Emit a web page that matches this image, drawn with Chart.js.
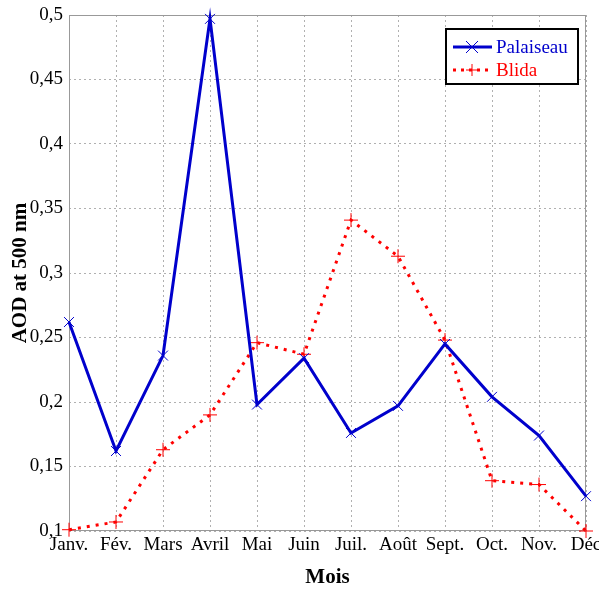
<!DOCTYPE html>
<html>
<head>
<meta charset="utf-8">
<script src="https://cdn.jsdelivr.net/npm/chart.js@4/dist/chart.umd.min.js"></script>
<style>
  html, body { margin: 0; padding: 0; background: #fff; }
  #wrap { width: 599px; height: 590px; position: relative; }
</style>
</head>
<body>
<div id="wrap"><canvas id="aod"></canvas></div>
<script>
// Monthly mean AOD at 500 nm, Palaiseau vs Blida.
const MONTHS = ["Janv.", "Fév.", "Mars", "Avril", "Mai", "Juin", "Juil.", "Août", "Sept.", "Oct.", "Nov.", "Déc"];
const PALAISEAU = [0.262, 0.162, 0.236, 0.497, 0.198, 0.234, 0.176, 0.197, 0.245, 0.204, 0.174, 0.127];
const BLIDA = [0.101, 0.107, 0.163, 0.190, 0.246, 0.237, 0.341, 0.313, 0.248, 0.139, 0.136, 0.100];
const Y_MIN = 0.1, Y_MAX = 0.5, Y_STEP = 0.05;

const FONT = "'Liberation Serif', 'Times New Roman', serif";
const BLUE = "#0000cc", RED = "#ff0000", GRID = "#b0b0b0";

const fmtComma = (v) => String(Math.round(v * 100) / 100).replace(".", ",");

// Legend box in the top-right corner of the plot, like the MATLAB one.
const boxLegend = {
  id: "boxLegend",
  afterDraw(chart) {
    const { ctx, chartArea: a } = chart;
    const x0 = a.right - 140, y0 = a.top + 14, w = 132, h = 55;
    ctx.save();
    ctx.fillStyle = "#fff";
    ctx.fillRect(x0, y0, w, h);
    ctx.strokeStyle = "#000";
    ctx.lineWidth = 2;
    ctx.strokeRect(x0, y0, w, h);
    const rows = [
      { label: "Palaiseau", color: BLUE, dash: [], mark: "x" },
      { label: "Blida", color: RED, dash: [3, 5], mark: "+" },
    ];
    rows.forEach((r, i) => {
      const y = y0 + 18 + i * 23;
      ctx.strokeStyle = r.color;
      ctx.lineWidth = 3;
      ctx.setLineDash(r.dash);
      ctx.beginPath();
      ctx.moveTo(x0 + 7, y);
      ctx.lineTo(x0 + 46, y);
      ctx.stroke();
      ctx.setLineDash([]);
      ctx.lineWidth = 1;
      ctx.beginPath();
      const cx = x0 + 26, s = 6;
      if (r.mark === "x") {
        ctx.moveTo(cx - s, y - s); ctx.lineTo(cx + s, y + s);
        ctx.moveTo(cx + s, y - s); ctx.lineTo(cx - s, y + s);
      } else {
        ctx.moveTo(cx - s, y); ctx.lineTo(cx + s, y);
        ctx.moveTo(cx, y - s); ctx.lineTo(cx, y + s);
      }
      ctx.stroke();
      ctx.fillStyle = r.color;
      ctx.font = `19px ${FONT}`;
      ctx.textBaseline = "middle";
      ctx.fillText(r.label, x0 + 50, y + 1);
    });
    ctx.restore();
  },
};

new Chart(document.getElementById("aod"), {
  type: "line",
  data: {
    labels: MONTHS,
    datasets: [
      {
        label: "Palaiseau", data: PALAISEAU, borderColor: BLUE, backgroundColor: BLUE,
        borderWidth: 3, pointStyle: "crossRot", pointRadius: 7, pointBorderWidth: 1,
        pointBorderColor: BLUE, tension: 0, clip: false,
      },
      {
        label: "Blida", data: BLIDA, borderColor: RED, backgroundColor: RED,
        borderWidth: 3, borderDash: [3, 6], pointStyle: "cross", pointRadius: 7, pointBorderWidth: 1,
        pointBorderColor: RED, tension: 0, clip: false,
      },
    ],
  },
  options: {
    responsive: true, maintainAspectRatio: false, animation: false,
    layout: { padding: { top: 15, right: 13, left: 0, bottom: 0 } },
    plugins: { legend: { display: false }, tooltip: { enabled: false } },
    scales: {
      x: {
        offset: false,
        grid: { color: GRID, lineWidth: 1, drawTicks: false },
        border: { display: false, dash: [2, 3] },
        ticks: { color: "#000", font: { family: FONT, size: 19 }, padding: 3, maxRotation: 0, autoSkip: false },
        title: { display: true, text: "Mois", color: "#000", font: { family: FONT, size: 21, weight: "bold" }, padding: { top: 4, bottom: 0 } },
        // let "Déc" run off the right edge as in the original
        afterFit: (s) => { s.height = 59; s.paddingLeft = 0; s.paddingRight = 0; },
      },
      y: {
        min: Y_MIN, max: Y_MAX,
        grid: { color: GRID, lineWidth: 1, drawTicks: false },
        border: { display: false, dash: [2, 3] },
        ticks: { stepSize: Y_STEP, color: "#000", font: { family: FONT, size: 19 }, padding: 6, callback: (v) => fmtComma(v) },
        title: { display: true, text: "AOD at 500 nm", color: "#000", font: { family: FONT, size: 21, weight: "bold" }, padding: { top: 8, bottom: 0 } },
        afterFit: (s) => { s.width = 69; s.paddingTop = 0; s.paddingBottom = 0; },
      },
    },
  },
  plugins: [
    {
      id: "frame",
      beforeDatasetsDraw(chart) {
        const { ctx, chartArea: a } = chart;
        ctx.save();
        ctx.strokeStyle = "#999";
        ctx.lineWidth = 1;
        ctx.strokeRect(a.left + 0.5, a.top + 0.5, a.right - a.left - 1, a.bottom - a.top - 1);
        ctx.restore();
      },
    },
    boxLegend,
  ],
});
</script>
</body>
</html>
